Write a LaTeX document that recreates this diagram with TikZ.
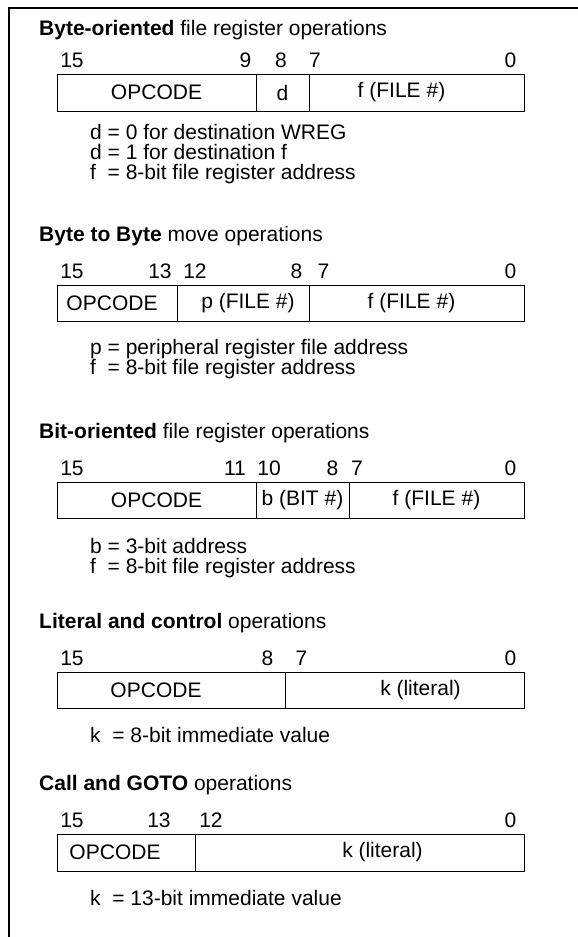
\documentclass[tikz,border=0pt]{standalone}
\usepackage{fontspec}
\setmainfont{Liberation Sans}
\usetikzlibrary{positioning}

\begin{document}
\begin{tikzpicture}
			[
				x = 1pt, y = -1pt,
				font = \fontsize{21}{25}\selectfont,
				field/.style = {draw, line width = 0.9pt, minimum height = 37pt, inner sep = 0pt, outer sep = 0pt},
				title/.style = {anchor = base west, inner sep = 0pt},
				bitno/.style = {anchor = base, inner sep = 0pt},
				note/.style = {anchor = base west, inner sep = 0pt}
			]
			\useasboundingbox (0,0) rectangle (578,937);
			\draw[line width = 2.5pt] (9,937) -- (9,8) -- (578,8);

			% byte-oriented
			\node[title] (t1) at (39,35) {\textbf{Byte-oriented} file register operations};
			\foreach \x/\n in {72/15, 245.5/9, 281/8, 315/7, 510.5/0}
				\node[bitno] (b1-\n) at (\x,67) {\n};
			\node[field, minimum width = 199pt, anchor = north west] (op1) at (57,74) {OPCODE};
			\node[field, minimum width = 53pt, right = 0pt of op1] (d1) {d};
			\node[field, minimum width = 215pt, right = 0pt of d1] (f1) {};
			\node (f1txt) at ([xshift = -15pt]f1.center) {f (FILE \#)};
			\node[note] (n1a) at (90,139) {d = 0 for destination WREG};
			\node[note] (n1b) at (90,159) {d = 1 for destination f};
			\node[note] (n1c) at (90,179) {f\ \ = 8-bit file register address};

			% byte to byte
			\node[title] (t2) at (39,241) {\textbf{Byte to Byte} move operations};
			\foreach \x/\n in {72/15, 160/13, 195/12, 296.5/8, 323.5/7, 510.5/0}
				\node[bitno] (b2-\n) at (\x,278) {\n};
			\node[field, minimum width = 120pt, minimum height = 36pt, anchor = north west] (op2) at (57,285) {};
			\node[field, minimum width = 132pt, minimum height = 36pt, right = 0pt of op2] (p2) {};
			\node[field, minimum width = 215pt, minimum height = 36pt, right = 0pt of p2] (f2) {};
			\node (op2txt) at ([xshift = -5pt]op2.center) {OPCODE};
			\node (p2txt) at ([xshift = 5pt]p2.center) {p (FILE \#)};
			\node (f2txt) at ([xshift = -5pt]f2.center) {f (FILE \#)};
			\node[note] (n2a) at (90,354) {p = peripheral register file address};
			\node[note] (n2b) at (90,374) {f\ \ = 8-bit file register address};

			% bit-oriented
			\node[title] (t3) at (39,438) {\textbf{Bit-oriented} file register operations};
			\foreach \x/\n in {72/15, 235/11, 269/10, 332.5/8, 357/7, 510.5/0}
				\node[bitno] (b3-\n) at (\x,475) {\n};
			\node[field, minimum width = 199pt, minimum height = 36pt, anchor = north west] (op3) at (57,482) {OPCODE};
			\node[field, minimum width = 93pt, minimum height = 36pt, right = 0pt of op3] (b3) {b (BIT \#)};
			\node[field, minimum width = 175pt, minimum height = 36pt, right = 0pt of b3] (f3) {f (FILE \#)};
			\node[note] (n3a) at (90,553) {b = 3-bit address};
			\node[note] (n3b) at (90,573) {f\ \ = 8-bit file register address};

			% literal and control
			\node[title] (t4) at (39,628) {\textbf{Literal and control} operations};
			\foreach \x/\n in {72/15, 267.5/8, 301.5/7, 510.5/0}
				\node[bitno] (b4-\n) at (\x,665) {\n};
			\node[field, minimum width = 228pt, minimum height = 36pt, anchor = north west] (op4) at (57,672) {};
			\node[field, minimum width = 239pt, minimum height = 36pt, right = 0pt of op4] (k4) {};
			\node (op4txt) at ([xshift = -15pt]op4.center) {OPCODE};
			\node (k4txt) at ([xshift = 16pt]k4.center) {k (literal)};
			\node[note] (n4) at (90,742) {k\ \ = 8-bit immediate value};

			% call and goto
			\node[title] (t5) at (39,790) {\textbf{Call and GOTO} operations};
			\foreach \x/\n in {72/15, 159/13, 211/12, 510.5/0}
				\node[bitno] (b5-\n) at (\x,827) {\n};
			\node[field, minimum width = 138pt, anchor = north west] (op5) at (57,834) {};
			\node[field, minimum width = 329pt, right = 0pt of op5] (k5) {};
			\node (op5txt) at ([xshift = -11pt]op5.center) {OPCODE};
			\node (k5txt) at ([xshift = 23pt]k5.center) {k (literal)};
			\node[note] (n5) at (90,905) {k\ \ = 13-bit immediate value};
			\end{tikzpicture}
\end{document}
